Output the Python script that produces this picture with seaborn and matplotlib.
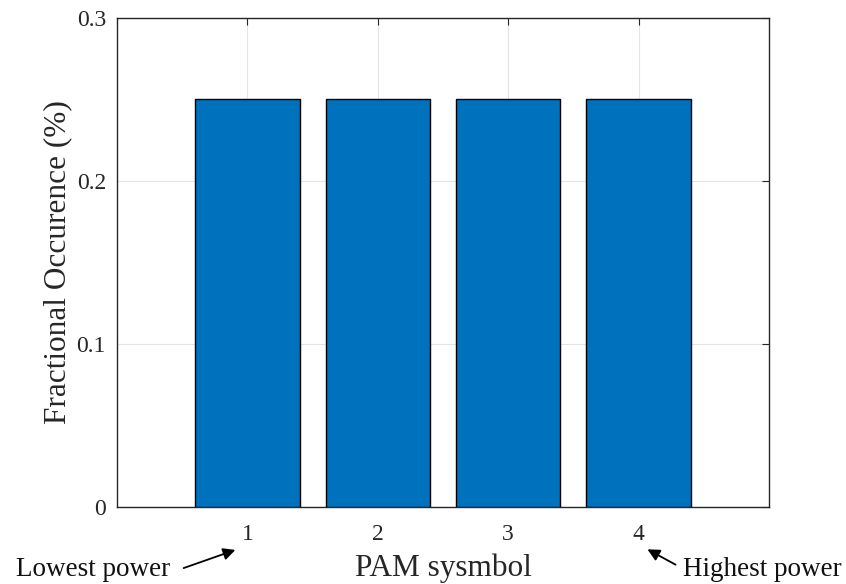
import matplotlib
matplotlib.use("Agg")
import matplotlib.pyplot as plt
import seaborn as sns
import pandas as pd

# PAM symbol occurrence data
symbols = [1, 2, 3, 4]
occurrence = [0.25, 0.25, 0.25, 0.25]
y_ticks = [0, 0.1, 0.2, 0.3]
y_tick_labels = ["0", "0.1", "0.2", "0.3"]

sns.set_theme(style="white")
plt.rcParams["font.family"] = ["Liberation Serif", "DejaVu Serif"]

df = pd.DataFrame({"symbol": symbols, "occurrence": occurrence})

fig = plt.figure(figsize=(8.46, 5.84), dpi=100)
ax = fig.add_axes([0.1383, 0.1318, 0.909 - 0.1383, 0.9692 - 0.1318])

sns.barplot(data=df, x="symbol", y="occurrence", native_scale=True,
            color="#0072BD", saturation=1, edgecolor="black", linewidth=1.0,
            width=0.8, ax=ax, zorder=3)

ax.set_xlim(0, 5)
ax.set_ylim(0, 0.3)
ax.set_xticks(symbols)
ax.set_xticklabels([str(s) for s in symbols])
ax.set_yticks(y_ticks)
ax.set_yticklabels(y_tick_labels)

ax.grid(True, color="#e3e3e3", linewidth=0.8, zorder=0)
ax.set_axisbelow(True)
for sp in ax.spines.values():
    sp.set_color("#262626")
    sp.set_linewidth(1.0)
    sp.set_visible(True)

ax.tick_params(direction="in", length=5, width=0.8, color="#262626",
               top=True, right=True, labelsize=17, labelcolor="#262626")
ax.tick_params(axis="x", pad=12)
ax.tick_params(axis="y", pad=8)

ax.set_xlabel("PAM sysmbol", fontsize=22.5, color="#262626", labelpad=6)
ax.set_ylabel("Fractional Occurence (%)", fontsize=22.5, color="#262626", labelpad=3)

# arrows pointing at the extreme symbols
fig.text(16 / 846, 1 - 570 / 584, "Lowest power", fontsize=19.5, color="#111111",
         ha="left", va="center")
fig.text(683 / 846, 1 - 570 / 584, "Highest power", fontsize=19.5, color="#111111",
         ha="left", va="center")
arrow = dict(arrowstyle="-|>", color="black", lw=1.3, mutation_scale=18)
ax.annotate("", xy=(238 / 846, 1 - 549 / 584), xytext=(181 / 846, 1 - 569 / 584),
            xycoords="figure fraction", textcoords="figure fraction",
            arrowprops=arrow, annotation_clip=False)
ax.annotate("", xy=(645 / 846, 1 - 548 / 584), xytext=(678 / 846, 1 - 566 / 584),
            xycoords="figure fraction", textcoords="figure fraction",
            arrowprops=arrow, annotation_clip=False)

fig.savefig("out.png", dpi=100)
